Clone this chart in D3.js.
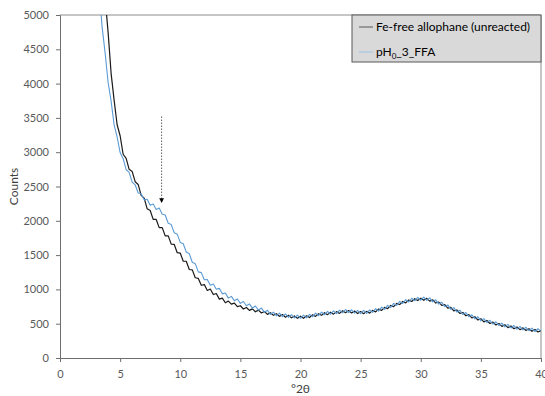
<!DOCTYPE html>
<html>
<head>
<meta charset="utf-8">
<script src="https://cdn.jsdelivr.net/npm/d3@7"></script>
<style>
  html, body { margin: 0; padding: 0; background: #fff; }
  svg text { font-family: Lato, "Open Sans", sans-serif; }
</style>
</head>
<body>
<div id="chart"></div>
<script>
// Fe-free allophane (unreacted), from 3.75 °2θ in 0.25 steps
const unreactedCounts = [
  5250,
  4750, 4150, 3760, 3400,   // 4
  3240, 2970, 2910, 2750,   // 5
  2720, 2570, 2530, 2370,   // 6
  2330, 2175, 2150, 2020,   // 7
  2020, 1900, 1900, 1780,   // 8
  1780, 1660, 1655, 1535,   // 9
  1530, 1410, 1410, 1290,   // 10
  1285, 1170, 1160, 1060,   // 11
  1070, 985, 1005, 925,     // 12
  940, 858, 872, 805,       // 13
  830, 785, 800, 748,       // 14
  762, 714, 736, 694,       // 15
  716, 674, 698, 656,       // 16
  678, 636, 660, 622,       // 17
  646, 607, 633, 595,       // 18
  622, 585, 613, 578,       // 19
  609, 579, 616, 590,       // 20
  630, 606, 646, 622,       // 21
  660, 632, 668, 639,       // 22
  676, 650, 688, 660,       // 23
  692, 656, 684, 648,       // 24
  678, 646, 680, 654,       // 25
  694, 672, 714, 694,       // 26
  738, 720, 766, 749,       // 27
  796, 779, 824, 804,       // 28
  846, 824, 864, 837,       // 29
  872, 841, 870, 829,       // 30
  848, 801, 816, 766,       // 31
  779, 727, 739, 687,       // 32
  700, 650, 664, 616,       // 33
  632, 584, 601, 554,       // 34
  572, 527, 547, 503,       // 35
  524, 481, 503, 461,       // 36
  484, 443, 467, 427,       // 37
  452, 413, 439, 401,       // 38
  427, 389, 416, 379,       // 39
  400
];

// pH0_3_FFA, from 3.25 °2θ in 0.25 steps
const ffaCounts = [
  5400, 4830, 4450,
  4020, 3745, 3400, 3225,   // 4
  2995, 2905, 2745, 2705,   // 5
  2565, 2525, 2405, 2395,   // 6
  2305, 2315, 2225, 2245,   // 7
  2165, 2185, 2095, 2085,   // 8
  1965, 1945, 1825, 1805,   // 9
  1685, 1665, 1545, 1520,   // 10
  1395, 1375, 1255, 1245,   // 11
  1140, 1145, 1062, 1078,   // 12
  1002, 1015, 935, 948,     // 13
  873, 898, 836, 861,       // 14
  796, 823, 761, 788,       // 15
  728, 758, 698, 728,       // 16
  668, 695, 634, 668,       // 17
  614, 654, 603, 642,       // 18
  592, 632, 583, 625,       // 19
  579, 626, 586, 637,       // 20
  600, 653, 616, 669,       // 21
  630, 679, 638, 686,       // 22
  646, 697, 658, 707,       // 23
  662, 703, 654, 695,       // 24
  648, 693, 650, 701,       // 25
  664, 719, 684, 741,       // 26
  708, 767, 736, 796,       // 27
  766, 826, 794, 851,       // 28
  816, 871, 834, 884,       // 29
  842, 888, 840, 876,       // 30
  818, 848, 786, 813,       // 31
  749, 774, 709, 734,       // 32
  670, 697, 634, 663,       // 33
  602, 631, 571, 601,       // 34
  542, 574, 517, 550,       // 35
  494, 528, 473, 508,       // 36
  454, 490, 437, 474,       // 37
  422, 460, 409, 448,       // 38
  397, 436, 386, 426,       // 39
  388
];

const unreactedAngles = d3.range(unreactedCounts.length).map(i => 3.75 + i * 0.25);
const ffaAngles = d3.range(ffaCounts.length).map(i => 3.25 + i * 0.25);

const xTicks = [0, 5, 10, 15, 20, 25, 30, 35, 40];
const yTicks = [0, 500, 1000, 1500, 2000, 2500, 3000, 3500, 4000, 4500, 5000];

// dotted arrow marking the shoulder: [angle, from count, to count]
const arrowMark = [8.45, 3520, 2260];

const series = [
  { name: 'Fe-free allophane (unreacted)', angles: unreactedAngles, counts: unreactedCounts, color: '#1a1a1a', width: 1.2 },
  { name: 'pH0_3_FFA', angles: ffaAngles, counts: ffaCounts, color: '#5b9bd5', width: 1.1 }
];

const W = 545, H = 396;
const m = { left: 60, right: 4, top: 15, bottom: 38 };

const svg = d3.select('#chart').append('svg')
  .attr('width', W).attr('height', H);

const x = d3.scaleLinear().domain([0, 40]).range([m.left, W - m.right]);
const y = d3.scaleLinear().domain([0, 5000]).range([H - m.bottom, m.top]);

const defs = svg.append('defs');
defs.append('clipPath').attr('id', 'plot-clip')
  .append('rect')
  .attr('x', x(0)).attr('y', y(5000))
  .attr('width', x(40) - x(0)).attr('height', y(0) - y(5000));

// plot frame (top + right)
svg.append('path')
  .attr('d', `M${x(0)},${y(5000)}H${x(40)}V${y(0)}`)
  .attr('fill', 'none').attr('stroke', '#8c8c8c').attr('stroke-width', 1);

// axes
const xAxis = svg.append('g')
  .attr('transform', `translate(0,${y(0)})`)
  .call(d3.axisBottom(x).tickValues(xTicks).tickSize(4).tickPadding(8));
const yAxis = svg.append('g')
  .attr('transform', `translate(${x(0)},0)`)
  .call(d3.axisLeft(y).tickValues(yTicks).tickFormat(d3.format('d')).tickSize(4).tickPadding(7));

[xAxis, yAxis].forEach(g => {
  g.select('.domain').attr('stroke', '#6e6e6e');
  g.selectAll('.tick line').attr('stroke', '#6e6e6e');
  g.selectAll('.tick text').attr('fill', '#595959').style('font-size', '11px');
});

// curves: black first, blue on top
const line = d3.line().x(d => x(d[0])).y(d => y(d[1]));
const linesG = svg.append('g').attr('clip-path', 'url(#plot-clip)');
series.forEach(s => {
  linesG.append('path')
    .datum(s.angles.map((a, i) => [a, s.counts[i]]))
    .attr('d', line)
    .attr('fill', 'none')
    .attr('stroke', s.color)
    .attr('stroke-width', s.width)
    .attr('stroke-linejoin', 'round');
});

// arrow
defs.append('marker')
  .attr('id', 'arrowhead')
  .attr('viewBox', '0 0 10 10').attr('refX', 10).attr('refY', 5)
  .attr('markerWidth', 6).attr('markerHeight', 6)
  .attr('orient', 'auto')
  .append('path').attr('d', 'M0,0L10,5L0,10Z').attr('fill', '#000');

svg.append('line')
  .attr('x1', x(arrowMark[0])).attr('x2', x(arrowMark[0]))
  .attr('y1', y(arrowMark[1])).attr('y2', y(arrowMark[2]))
  .attr('stroke', '#333').attr('stroke-width', 0.8)
  .attr('stroke-dasharray', '1.5,1.5')
  .attr('marker-end', 'url(#arrowhead)');

// axis titles
svg.append('text')
  .attr('transform', `translate(18,${(y(0) + y(5000)) / 2}) rotate(-90)`)
  .attr('text-anchor', 'middle')
  .attr('fill', '#404040')
  .style('font-size', '12px')
  .text('Counts');

svg.append('text')
  .attr('x', (x(0) + x(40)) / 2).attr('y', 393)
  .attr('text-anchor', 'middle')
  .attr('fill', '#404040')
  .style('font-size', '12px')
  .text('°2θ');

// legend
const legend = svg.append('g').attr('transform', 'translate(352,15)');
legend.append('rect')
  .attr('width', 189).attr('height', 47)
  .attr('fill', '#d9d9d9').attr('stroke', '#595959').attr('stroke-width', 1);

series.forEach((s, i) => {
  const row = legend.append('g').attr('transform', `translate(0,${12 + i * 25})`);
  row.append('line')
    .attr('x1', 7).attr('x2', 21)
    .attr('stroke', i === 0 ? '#595959' : '#9dc3e6').attr('stroke-width', 1);
  const t = row.append('text')
    .attr('x', 24).attr('dy', '0.35em')
    .attr('fill', '#000')
    .style('font-size', '12px');
  if (i === 0) {
    t.text(s.name);
  } else {
    t.append('tspan').text('pH');
    t.append('tspan').attr('dy', 3).style('font-size', '8px').text('0');
    t.append('tspan').attr('dy', -3).text('_3_FFA');
  }
});
</script>
</body>
</html>
